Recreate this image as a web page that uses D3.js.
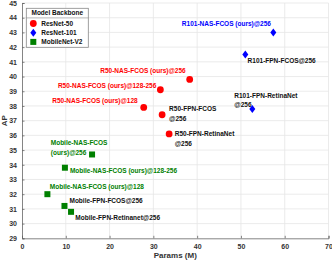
<!DOCTYPE html>
<html>
<head>
<meta charset="utf-8">
<script src="https://cdn.jsdelivr.net/npm/d3@7"></script>
<style>
  body { margin: 0; background: #fff; }
  text { font-family: "Liberation Sans", Arial, sans-serif; }
</style>
</head>
<body>
<div id="chart"></div>
<script>
// data
var r50Names = ["R50-NAS-FCOS (ours)@256", "R50-NAS-FCOS (ours)@128-256", "R50-NAS-FCOS (ours)@128", "R50-FPN-FCOS\n@256", "R50-FPN-RetinaNet\n@256"];
var r50Params = [38.3, 31.6, 27.8, 32.0, 33.6];
var r50AP = [39.8, 39.1, 37.9, 37.4, 36.1];

var r101Names = ["R101-NAS-FCOS (ours)@256", "R101-FPN-FCOS@256", "R101-FPN-RetinaNet\n@256"];
var r101Params = [57.4, 51.0, 52.6];
var r101AP = [43.0, 41.5, 37.8];

var mobNames = ["Mobile-NAS-FCOS\n(ours)@256", "Mobile-NAS-FCOS (ours)@128-256", "Mobile-NAS-FCOS (ours)@128", "Mobile-FPN-FCOS@256", "Mobile-FPN-Retinanet@256"];
var mobParams = [16.0, 9.8, 5.8, 9.7, 11.2];
var mobAP = [34.7, 33.8, 32.0, 31.2, 30.8];

var seriesNames = ["ResNet-50", "ResNet-101", "MobileNet-V2"];
var xTicks = [0, 10, 20, 30, 40, 50, 60, 70];
var yTicks = [29, 30, 31, 32, 33, 34, 35, 36, 37, 38, 39, 40, 41, 42, 43, 44, 45];

// label placement (pixel offsets from the point), kept apart from the data
var labelPos = {
  "R50-NAS-FCOS (ours)@256": [-4, -8.5, "end"],
  "R50-NAS-FCOS (ours)@128-256": [-4, -4, "end"],
  "R50-NAS-FCOS (ours)@128": [-6, -7, "end"],
  "R50-FPN-FCOS\n@256": [7, -5.6, "start"],
  "R50-FPN-RetinaNet\n@256": [5.6, 0.3, "start"],
  "R101-NAS-FCOS (ours)@256": [-2.4, -8.7, "end"],
  "R101-FPN-FCOS@256": [2.3, 6, "start"],
  "R101-FPN-RetinaNet\n@256": [-18, -13.6, "start"],
  "Mobile-NAS-FCOS\n(ours)@256": [-41.3, -11.3, "start"],
  "Mobile-NAS-FCOS (ours)@128-256": [5, 3, "start"],
  "Mobile-NAS-FCOS (ours)@128": [2.4, -7, "start"],
  "Mobile-FPN-FCOS@256": [5, -5.7, "start"],
  "Mobile-FPN-Retinanet@256": [4.3, 6.3, "start"]
};

var colors = {"ResNet-50": "#ff0000", "ResNet-101": "#0000ff", "MobileNet-V2": "#008000"};

function makeRows(series, names, xs, ys) {
  return names.map(function (n, i) {
    return {series: series, name: n, x: xs[i], y: ys[i]};
  });
}
var points = makeRows("ResNet-50", r50Names, r50Params, r50AP)
  .concat(makeRows("ResNet-101", r101Names, r101Params, r101AP))
  .concat(makeRows("MobileNet-V2", mobNames, mobParams, mobAP));

var svg = d3.select("#chart").append("svg").attr("width", 332).attr("height", 262),
  margin = {top: 3, right: 3.5, bottom: 23.7, left: 22},
  width = 332 - margin.left - margin.right,
  height = 262 - margin.top - margin.bottom;

var g = svg.append("g").attr("transform", "translate(" + margin.left + "," + margin.top + ")");

var x = d3.scaleLinear().domain([0, 70]).range([0, width]);
var y = d3.scaleLinear().domain([29, 45]).range([height, 0]);

// grid
g.append("g").selectAll("line").data(xTicks.slice(1)).enter().append("line")
  .attr("x1", function (d) { return x(d); }).attr("x2", function (d) { return x(d); })
  .attr("y1", 0).attr("y2", height)
  .attr("stroke", "#e6e6e6").attr("stroke-width", 0.8);
g.append("g").selectAll("line").data(yTicks.slice(1)).enter().append("line")
  .attr("y1", function (d) { return y(d); }).attr("y2", function (d) { return y(d); })
  .attr("x1", 0).attr("x2", width)
  .attr("stroke", "#e6e6e6").attr("stroke-width", 0.8);

// axes, ticks pointing inwards
var xAxis = g.append("g").attr("transform", "translate(0," + height + ")")
  .call(d3.axisBottom(x).tickValues(xTicks).tickSize(-2.5).tickPadding(6));
var yAxis = g.append("g")
  .call(d3.axisLeft(y).tickValues(yTicks).tickSize(-2.5).tickPadding(5));
[xAxis, yAxis].forEach(function (a) {
  a.select(".domain").attr("stroke", "#666").attr("stroke-width", 0.8);
  a.selectAll(".tick line").attr("stroke", "#666").attr("stroke-width", 0.8);
  a.selectAll("text").attr("fill", "#333").style("font-size", "7px")
    .style("font-family", "Liberation Sans, Arial, sans-serif").style("font-weight", "bold");
});

g.append("text")
  .attr("x", width / 2).attr("y", height + 20)
  .attr("text-anchor", "middle")
  .style("font-size", "8px").style("font-weight", "bold").attr("fill", "#333")
  .text("Params (M)");
g.append("text")
  .attr("transform", "translate(-15," + (height / 2) + ") rotate(-90)")
  .attr("text-anchor", "middle")
  .style("font-size", "8px").style("font-weight", "bold").attr("fill", "#333")
  .text("AP");

// markers
function drawMarker(sel, series) {
  if (series === "ResNet-50") {
    sel.append("circle").attr("r", 3.4).attr("fill", colors[series]);
  } else if (series === "ResNet-101") {
    sel.append("path").attr("d", "M0,-4L3,0L0,4L-3,0Z").attr("fill", colors[series]);
  } else {
    sel.append("rect").attr("x", -3).attr("y", -3).attr("width", 6).attr("height", 6).attr("fill", colors[series]);
  }
}

var pts = g.selectAll(".pt").data(points).enter().append("g")
  .attr("class", "pt")
  .attr("transform", function (d) { return "translate(" + x(d.x) + "," + y(d.y) + ")"; });
pts.each(function (d) { drawMarker(d3.select(this), d.series); });

// labels
var labels = g.selectAll(".lbl").data(points).enter().append("text")
  .attr("class", "lbl")
  .attr("x", function (d) { return x(d.x) + labelPos[d.name][0]; })
  .attr("y", function (d) { return y(d.y) + labelPos[d.name][1]; })
  .attr("text-anchor", function (d) { return labelPos[d.name][2]; })
  .attr("fill", function (d) { return d.name.indexOf("ours") >= 0 ? colors[d.series] : "#111"; })
  .style("font-size", "6.5px").style("font-weight", "bold");
labels.each(function (d) {
  var t = d3.select(this), xx = t.attr("x");
  d.name.split("\n").forEach(function (line, i) {
    t.append("tspan").attr("x", xx).attr("dy", i === 0 ? "0.35em" : "1.4em").text(line);
  });
});

// legend
var legend = g.append("g").attr("transform", "translate(4.3,5.3)");
legend.append("rect").attr("width", 62).attr("height", 39)
  .attr("fill", "#fff").attr("stroke", "#888").attr("stroke-width", 0.8);
legend.append("text").attr("x", 31).attr("y", 4.6).attr("dy", "0.35em")
  .attr("text-anchor", "middle").style("font-size", "6.5px").style("font-weight", "bold")
  .attr("fill", "#111").text("Model Backbone");
legend.append("line").attr("x1", 0).attr("x2", 62).attr("y1", 9.6).attr("y2", 9.6)
  .attr("stroke", "#888").attr("stroke-width", 0.6);
var items = legend.selectAll(".item").data(seriesNames).enter().append("g")
  .attr("class", "item")
  .attr("transform", function (d, i) { return "translate(7," + (15.2 + i * 9.2) + ")"; });
items.each(function (d) { drawMarker(d3.select(this), d); });
items.append("text").attr("x", 8).attr("dy", "0.35em")
  .style("font-size", "6.5px").style("font-weight", "bold").attr("fill", "#111")
  .text(function (d) { return d; });
</script>
</body>
</html>
